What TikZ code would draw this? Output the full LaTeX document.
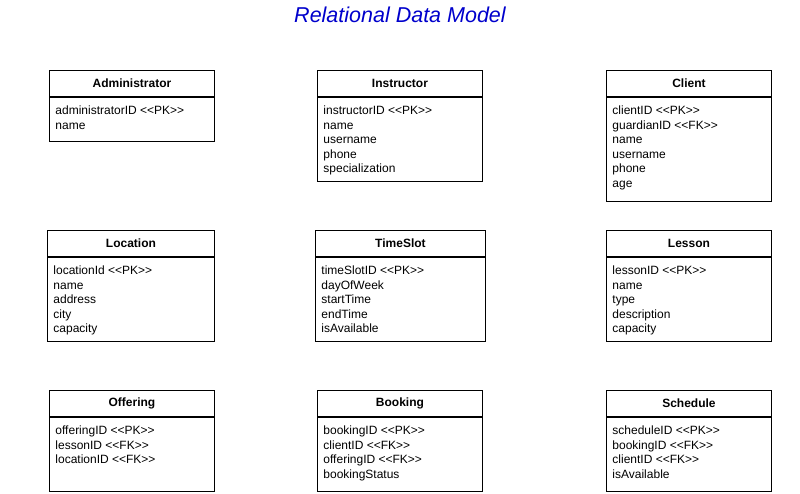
\documentclass[tikz,border=0pt]{standalone}
\usepackage{fontspec}
\setmainfont{Liberation Sans}
\usetikzlibrary{positioning}
\definecolor{titleblue}{RGB}{0,0,204}
\tikzset{
  every node/.style={font=\fontsize{12}{14.5}\selectfont},
  every path/.style={line width=0.9pt},
  hdr/.style={draw, anchor=north west, minimum height=26pt, inner sep=0pt, font=\fontsize{12}{14.5}\selectfont\bfseries},
  bdy/.style={draw, anchor=north west, inner sep=0pt},
  attrs/.style={anchor=north west, align=left, inner sep=0pt},
}
\begin{document}
\begin{tikzpicture}[x=1pt,y=-1pt]
\useasboundingbox (0,0) rectangle (800,493);
% title
\node[text=titleblue, font=\fontsize{21.5}{24}\selectfont\itshape] (title) at (400,15) {Relational Data Model};

% first row
\node[hdr, minimum width=165pt] (adminH) at (49,70) {Administrator};
\node[bdy, minimum width=165pt, minimum height=44pt, below=0pt of adminH.south west, anchor=north west] (adminB) {};
\node[attrs] (adminA) at ([xshift=6pt,yshift=-8.5pt]adminB.north west) {administratorID <{}<PK>{}>\\name};

\node[hdr, minimum width=165pt] (instrH) at (317,70) {Instructor};
\node[bdy, minimum width=165pt, minimum height=84pt, below=0pt of instrH.south west, anchor=north west] (instrB) {};
\node[attrs] (instrA) at ([xshift=6pt,yshift=-8.5pt]instrB.north west) {instructorID <{}<PK>{}>\\name\\username\\phone\\specialization};

\node[hdr, minimum width=165pt] (clientH) at (606,70) {Client};
\node[bdy, minimum width=165pt, minimum height=104pt, below=0pt of clientH.south west, anchor=north west] (clientB) {};
\node[attrs] (clientA) at ([xshift=6pt,yshift=-8.5pt]clientB.north west) {clientID <{}<PK>{}>\\guardianID <{}<FK>{}>\\name\\username\\phone\\age};

% second row
\node[hdr, minimum width=167pt] (locH) at (47,230) {Location};
\node[bdy, minimum width=167pt, minimum height=84pt, below=0pt of locH.south west, anchor=north west] (locB) {};
\node[attrs] (locA) at ([xshift=6pt,yshift=-8.5pt]locB.north west) {locationId <{}<PK>{}>\\name\\address\\city\\capacity};

\node[hdr, minimum width=170pt] (slotH) at (315,230) {TimeSlot};
\node[bdy, minimum width=170pt, minimum height=84pt, below=0pt of slotH.south west, anchor=north west] (slotB) {};
\node[attrs] (slotA) at ([xshift=6pt,yshift=-8.5pt]slotB.north west) {timeSlotID <{}<PK>{}>\\dayOfWeek\\startTime\\endTime\\isAvailable};

\node[hdr, minimum width=165pt] (lessonH) at (606,230) {Lesson};
\node[bdy, minimum width=165pt, minimum height=84pt, below=0pt of lessonH.south west, anchor=north west] (lessonB) {};
\node[attrs] (lessonA) at ([xshift=6pt,yshift=-8.5pt]lessonB.north west) {lessonID <{}<PK>{}>\\name\\type\\description\\capacity};

% third row
\node[hdr, minimum width=165pt] (offerH) at (49,390) {Offering};
\node[bdy, minimum width=165pt, minimum height=74pt, below=0pt of offerH.south west, anchor=north west] (offerB) {};
\node[attrs] (offerA) at ([xshift=6pt,yshift=-8.5pt]offerB.north west) {offeringID <{}<PK>{}>\\lessonID <{}<FK>{}>\\locationID <{}<FK>{}>};

\node[hdr, minimum width=165pt] (bookH) at (317,390) {Booking};
\node[bdy, minimum width=165pt, minimum height=74pt, below=0pt of bookH.south west, anchor=north west] (bookB) {};
\node[attrs] (bookA) at ([xshift=6pt,yshift=-8.5pt]bookB.north west) {bookingID <{}<PK>{}>\\clientID <{}<FK>{}>\\offeringID <{}<FK>{}>\\bookingStatus};

\node[hdr, minimum width=165pt] (schedH) at (606,390) {Schedule};
\node[bdy, minimum width=165pt, minimum height=74pt, below=0pt of schedH.south west, anchor=north west] (schedB) {};
\node[attrs] (schedA) at ([xshift=6pt,yshift=-8.5pt]schedB.north west) {scheduleID <{}<PK>{}>\\bookingID <{}<FK>{}>\\clientID <{}<FK>{}>\\isAvailable};
\end{tikzpicture}
\end{document}
